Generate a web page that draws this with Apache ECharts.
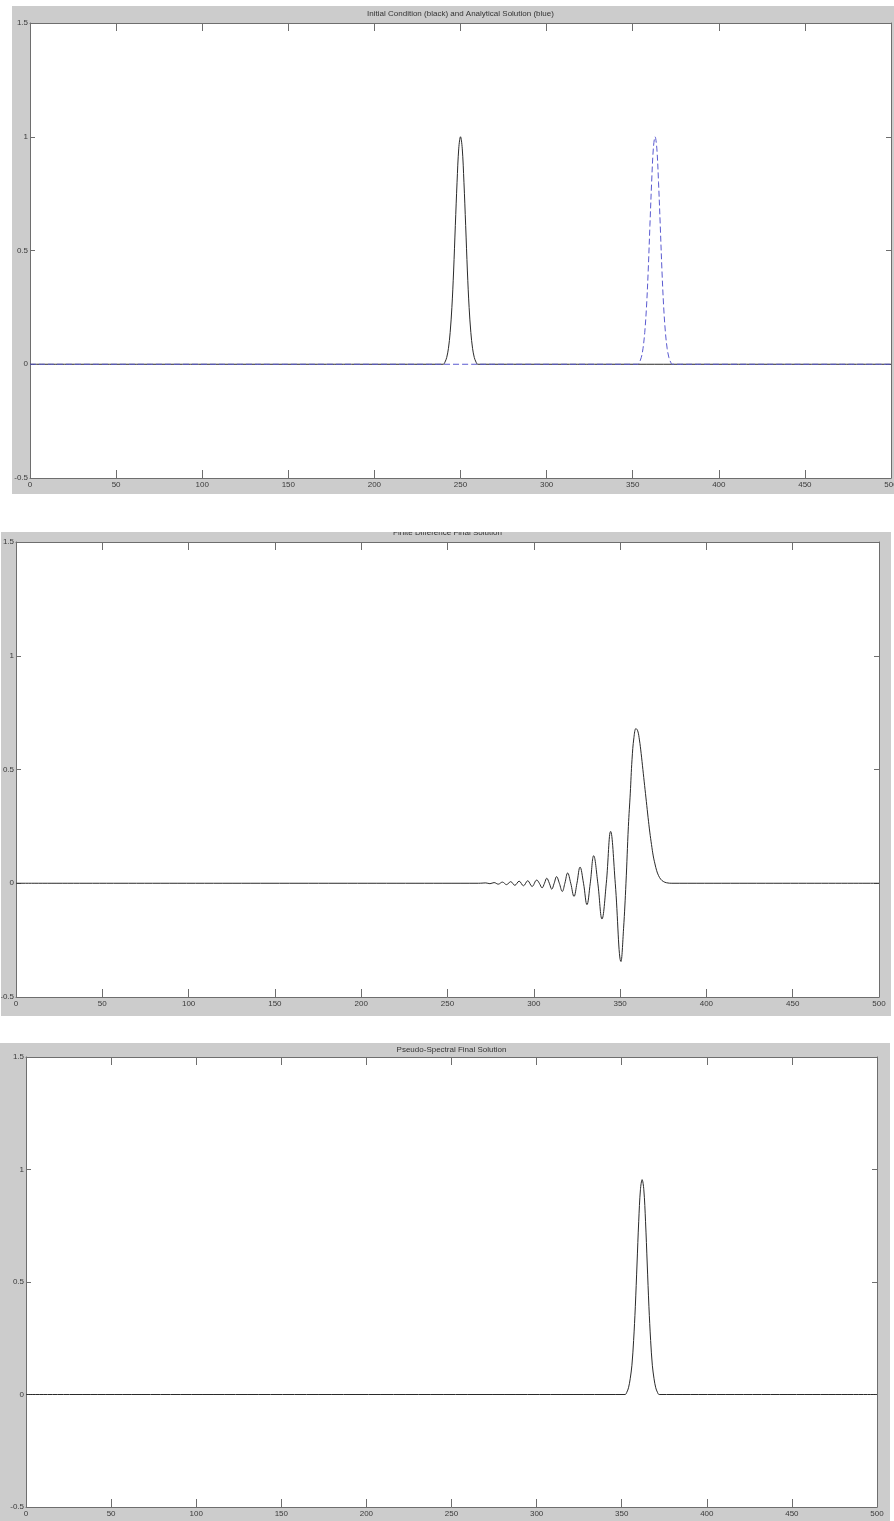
<!DOCTYPE html>
<html>
<head>
<meta charset="utf-8">
<script src="https://cdn.jsdelivr.net/npm/echarts@6/dist/echarts.min.js"></script>
<style>
  html, body { margin: 0; padding: 0; background: #fff; width: 894px; height: 1521px; overflow: hidden; }
  .panel { position: absolute; background: #cccccc; }
</style>
</head>
<body>
<div id="p1" class="panel" style="left:12px;top:6px;width:882px;height:488px"></div>
<div id="p2" class="panel" style="left:1px;top:532px;width:890px;height:484px"></div>
<div id="p3" class="panel" style="left:0;top:1043px;width:890px;height:478px"></div>
<script>
// axis ticks
const xTicks = [0, 50, 100, 150, 200, 250, 300, 350, 400, 450, 500]
const yTicks = [-0.5, 0, 0.5, 1, 1.5]

// panel 1: initial condition (black) and analytical solution (blue)
const initialX = [0, 240, 241, 242, 243, 244, 245, 246, 247, 248, 249, 250, 251, 252, 253, 254, 255, 256, 257, 258, 259, 260, 500]
const initialY = [0, 0, 0.01, 0.03, 0.07, 0.14, 0.25, 0.41, 0.61, 0.80, 0.95, 1.0, 0.95, 0.80, 0.61, 0.41, 0.25, 0.14, 0.07, 0.03, 0.01, 0, 0]
const analyticX = [0, 353, 354, 355, 356, 357, 358, 359, 360, 361, 362, 363, 364, 365, 366, 367, 368, 369, 370, 371, 372, 373, 500]
const analyticY = [0, 0, 0.01, 0.03, 0.07, 0.14, 0.25, 0.41, 0.61, 0.80, 0.95, 1.0, 0.95, 0.80, 0.61, 0.41, 0.25, 0.14, 0.07, 0.03, 0.01, 0, 0]

// panel 2: finite difference final solution
const fdX = [0, 268, 270, 272.2, 274.6, 277, 279.4, 281.8, 284.2, 286.6, 289, 291.5, 294, 296.5, 299, 301.7,
  303.2, 304.8, 306.2, 307.5, 309, 310.4, 311.8, 313.2, 314.8, 316.5, 318, 319.6, 321.4, 323.3, 325, 326.8,
  328.8, 330.8, 332.7, 334.7, 337.1, 339.5, 342, 344.5, 347.2, 350.5, 352, 353.4, 354.8, 355.9, 356.9, 358,
  359.2, 360.2, 361.2, 362.2, 363.2, 364.2, 365.2, 366.2, 367.2, 368.2, 369.2, 370.2, 371.2, 372.2, 373.5, 375, 377, 380, 500]
const fdY = [0, 0, 0.0005, 0.0015, -0.002, 0.003, -0.004, 0.005, -0.006, 0.007, -0.009, 0.009, -0.011, 0.011, -0.014, 0.014,
  0, -0.02, 0, 0.022, 0, -0.026, 0, 0.029, 0, -0.036, 0, 0.045, 0, -0.058, 0, 0.071,
  0, -0.094, 0, 0.121, 0, -0.157, 0, 0.228, 0, -0.344, -0.2, 0, 0.25, 0.396, 0.543, 0.64,
  0.68, 0.67, 0.63, 0.57, 0.5, 0.43, 0.36, 0.29, 0.225, 0.17, 0.12, 0.085, 0.055, 0.035, 0.018, 0.008, 0.002, 0, 0]

// panel 3: pseudo-spectral final solution
const psX = [0, 352, 353, 354, 355, 356, 357, 358, 359, 360, 361, 362, 363, 364, 365, 366, 367, 368, 369, 370, 371, 372, 500]
const psY = [0, 0, 0.01, 0.03, 0.07, 0.13, 0.24, 0.39, 0.58, 0.77, 0.91, 0.955, 0.91, 0.77, 0.58, 0.39, 0.24, 0.13, 0.07, 0.03, 0.01, 0, 0]

const FONT = 'Liberation Sans, Arial, sans-serif'
const AXIS_GRAY = '#6e6e6e'

function pairs(xs, ys) {
  return xs.map((x, i) => [x, ys[i]])
}

function axisPair(kind) {
  const isX = kind === 'x'
  const base = {
    type: 'value',
    min: isX ? xTicks[0] : yTicks[0],
    max: isX ? xTicks[xTicks.length - 1] : yTicks[yTicks.length - 1],
    interval: isX ? 50 : 0.5,
    splitLine: { show: false },
    axisLine: { show: true, onZero: false, lineStyle: { color: AXIS_GRAY, width: 1 } },
    axisTick: { show: true, inside: true, length: isX ? 8 : 5, lineStyle: { color: AXIS_GRAY } }
  }
  return [
    Object.assign({}, base, {
      position: isX ? 'bottom' : 'left',
      axisLabel: {
        show: true, fontFamily: FONT, fontSize: 8, color: '#3a3a3a',
        margin: isX ? 3 : 2,
        formatter: v => String(v)
      }
    }),
    Object.assign({}, base, {
      position: isX ? 'top' : 'right',
      axisLabel: { show: false }
    })
  ]
}

function makePanel(id, grid, title, series) {
  const chart = echarts.init(document.getElementById(id), null, { renderer: 'canvas' })
  chart.setOption({
    animation: false,
    backgroundColor: 'transparent',
    grid: Object.assign({
      show: true, backgroundColor: '#ffffff', borderWidth: 0,
      containLabel: false, outerBoundsMode: 'none'
    }, grid),
    xAxis: axisPair('x'),
    yAxis: axisPair('y'),
    graphic: [{
      type: 'text',
      x: title.x, y: title.y,
      style: {
        text: title.text, fontFamily: FONT, fontSize: 8, fill: '#333',
        textAlign: 'center', textVerticalAlign: 'middle'
      }
    }],
    series: series.map(s => Object.assign({
      type: 'line', showSymbol: false, symbol: 'none', silent: true,
      xAxisIndex: 0, yAxisIndex: 0, smooth: 0.35
    }, s))
  })
  return chart
}

makePanel('p1', { left: 18, top: 17, right: 3, bottom: 16 },
  { text: 'Initial Condition (black) and Analytical Solution (blue)', x: 448.5, y: 8 },
  [
    { data: pairs(initialX, initialY), lineStyle: { color: '#2a2a2a', width: 1 } },
    { data: pairs(analyticX, analyticY), lineStyle: { color: '#5a5ad0', width: 1, type: [6, 3] } }
  ])

makePanel('p2', { left: 15, top: 10, right: 12, bottom: 19 },
  { text: 'Finite Difference Final Solution', x: 446.5, y: 1 },
  [
    { data: pairs(fdX, fdY), smooth: 0.4, lineStyle: { color: '#2a2a2a', width: 1 } }
  ])

makePanel('p3', { left: 26, top: 14, right: 13, bottom: 14 },
  { text: 'Pseudo-Spectral Final Solution', x: 451.5, y: 7 },
  [
    { data: pairs(psX, psY), lineStyle: { color: '#2a2a2a', width: 1 } }
  ])
</script>
</body>
</html>
